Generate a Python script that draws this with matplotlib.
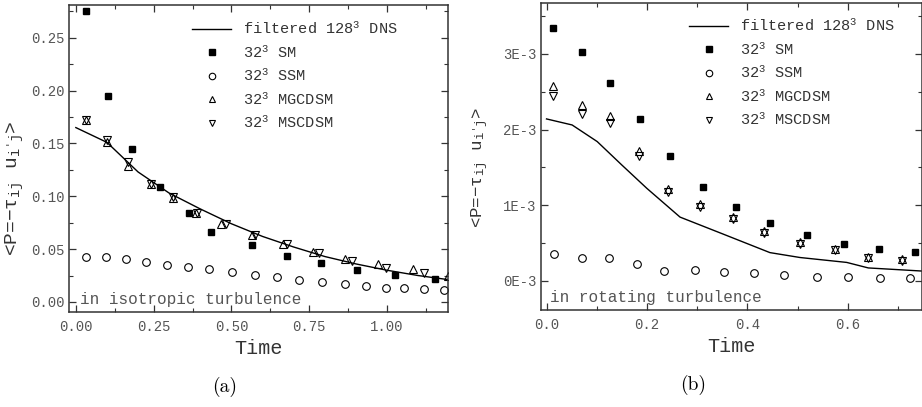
import matplotlib
matplotlib.use("Agg")
import matplotlib.pyplot as plt
from matplotlib.ticker import MultipleLocator, FuncFormatter

plt.rcParams['font.family'] = ['Liberation Mono', 'DejaVu Sans']
plt.rcParams['mathtext.fontset'] = 'custom'
plt.rcParams['mathtext.rm'] = 'Liberation Mono'
plt.rcParams['mathtext.it'] = 'Liberation Mono'

# ---- panel (a): isotropic turbulence ----
a_dns_t = [0.0, 0.1, 0.2, 0.3, 0.4, 0.5, 0.6, 0.7, 0.8, 0.9, 1.0, 1.1, 1.2]
a_dns_p = [0.165, 0.151, 0.123, 0.103, 0.088, 0.074, 0.062, 0.052, 0.043, 0.036, 0.030, 0.025, 0.021]

a_sm_t = [0.032, 0.104, 0.181, 0.269, 0.363, 0.433, 0.567, 0.677, 0.788, 0.904, 1.027, 1.154]
a_sm_p = [0.2756, 0.195, 0.145, 0.109, 0.0846, 0.0666, 0.0543, 0.0439, 0.0373, 0.0306, 0.0259, 0.0221]

a_ssm_t = [0.032, 0.098, 0.161, 0.227, 0.294, 0.360, 0.429, 0.502, 0.577, 0.647,
           0.718, 0.791, 0.865, 0.932, 0.996, 1.056, 1.119, 1.183]
a_ssm_p = [0.0429, 0.0429, 0.0404, 0.0376, 0.0353, 0.0331, 0.0309, 0.0287, 0.0259, 0.0234,
           0.0208, 0.0186, 0.0167, 0.0152, 0.0136, 0.0129, 0.0120, 0.0114]

a_mg_t = [0.032, 0.099, 0.169, 0.240, 0.313, 0.386, 0.468, 0.565, 0.667, 0.763, 0.864, 0.972, 1.085, 1.197]
a_mg_p = [0.172, 0.151, 0.129, 0.112, 0.098, 0.0846, 0.0735, 0.0638, 0.0549, 0.0477, 0.0410, 0.0357, 0.0309, 0.0246]

a_ms_t = [0.032, 0.099, 0.169, 0.240, 0.313, 0.390, 0.481, 0.576, 0.677, 0.781, 0.886, 0.997, 1.118]
a_ms_p = [0.172, 0.153, 0.132, 0.112, 0.099, 0.0846, 0.0735, 0.0638, 0.0549, 0.0461, 0.0388, 0.0325, 0.0275]

# ---- panel (b): rotating turbulence (values in units of 1E-3) ----
b_dns_t = [0.0, 0.051, 0.101, 0.15, 0.2, 0.266, 0.35, 0.445, 0.505, 0.598, 0.641, 0.75]
b_dns_p = [2.14, 2.06, 1.84, 1.53, 1.22, 0.84, 0.62, 0.37, 0.305, 0.24, 0.167, 0.125]

b_sm_t = [0.013, 0.071, 0.127, 0.187, 0.246, 0.312, 0.378, 0.446, 0.519, 0.592, 0.663, 0.734]
b_sm_p = [3.34, 3.03, 2.62, 2.14, 1.65, 1.245, 0.975, 0.768, 0.604, 0.49, 0.419, 0.375]

b_ssm_t = [0.014, 0.070, 0.124, 0.181, 0.235, 0.295, 0.354, 0.414, 0.473, 0.538, 0.601, 0.664, 0.725]
b_ssm_p = [0.348, 0.304, 0.304, 0.225, 0.128, 0.137, 0.119, 0.101, 0.079, 0.048, 0.048, 0.040, 0.040]

b_tri_t = [0.013, 0.071, 0.127, 0.185, 0.242, 0.305, 0.371, 0.434, 0.504, 0.574, 0.641, 0.708]
b_mg_p = [2.57, 2.33, 2.185, 1.717, 1.21, 1.01, 0.835, 0.655, 0.51, 0.42, 0.315, 0.28]
b_ms_p = [2.45, 2.21, 2.09, 1.65, 1.17, 0.98, 0.81, 0.63, 0.49, 0.40, 0.295, 0.26]

labels = ['filtered 128$^3$ DNS', '32$^3$ SM', '32$^3$ SSM', '32$^3$ MGCDSM', '32$^3$ MSCDSM']

W, H = 922, 407
fig = plt.figure(figsize=(W / 100, H / 100), dpi=100)
axa = fig.add_axes([69 / W, (H - 312) / H, 379 / W, 307 / H])
axb = fig.add_axes([541 / W, (H - 310) / H, 380.5 / W, 307 / H])

mk = dict(linestyle='none', color='black', markerfacecolor='none', markeredgewidth=0.8)


def draw(ax, dt, dp, st, sp, ct, cp, ut, up, vt, vp):
    ax.plot(dt, dp, color='black', lw=1.0, label=labels[0])
    ax.plot(st, sp, marker='s', linestyle='none', color='black', ms=5, label=labels[1])
    ax.plot(ct, cp, marker='o', ms=5.5, label=labels[2], **mk)
    ax.plot(ut, up, marker='^', ms=5.5, label=labels[3], **mk)
    ax.plot(vt, vp, marker='v', ms=5.5, label=labels[4], **mk)


def style(ax):
    for s in ax.spines.values():
        s.set_color('#333333')
        s.set_linewidth(1.1)
    ax.tick_params(which='both', direction='in', top=True, right=True,
                   colors='#333333', labelcolor='#555555', labelsize=10, pad=3)
    ax.tick_params(which='major', length=5, width=0.9)
    ax.tick_params(which='minor', length=3, width=0.8)
    ax.tick_params(axis='x', pad=6)
    ax.set_xlabel('Time', fontsize=14.5, color='#333333', labelpad=3)


draw(axa, a_dns_t, a_dns_p, a_sm_t, a_sm_p, a_ssm_t, a_ssm_p, a_mg_t, a_mg_p, a_ms_t, a_ms_p)
axa.set_xlim(-0.022, 1.196)
axa.set_ylim(-0.0095, 0.281)
axa.xaxis.set_major_locator(MultipleLocator(0.25))
axa.xaxis.set_minor_locator(MultipleLocator(0.125))
axa.yaxis.set_major_locator(MultipleLocator(0.05))
axa.yaxis.set_minor_locator(MultipleLocator(0.025))
axa.xaxis.set_major_formatter(FuncFormatter(lambda v, p: f'{v:.2f}'))
axa.yaxis.set_major_formatter(FuncFormatter(lambda v, p: f'{v:.2f}'))
style(axa)
axa.set_ylabel("<P=−τ$_{ij}$ u$_{i'j}$>", fontsize=14, color='#333333', va='center')
axa.yaxis.set_label_coords((15 - 69) / 379, (312 - 188) / 307)
axa.text(0.029, 0.041, 'in isotropic turbulence', transform=axa.transAxes,
         fontsize=11.5, color='#555555', va='center', ha='left')

draw(axb, b_dns_t, b_dns_p, b_sm_t, b_sm_p, b_ssm_t, b_ssm_p, b_tri_t, b_mg_p, b_tri_t, b_ms_p)
axb.set_xlim(-0.011, 0.747)
axb.set_ylim(-0.39, 3.675)
axb.xaxis.set_major_locator(MultipleLocator(0.2))
axb.xaxis.set_minor_locator(MultipleLocator(0.1))
axb.yaxis.set_major_locator(MultipleLocator(1))
axb.yaxis.set_minor_locator(MultipleLocator(0.5))
axb.xaxis.set_major_formatter(FuncFormatter(lambda v, p: f'{v:.1f}'))
axb.yaxis.set_major_formatter(FuncFormatter(lambda v, p: f'{v:.0f}E-3'))
style(axb)
axb.set_ylabel("<P=−τ$_{ij}$ u$_{i'j}$>", fontsize=12.5, color='#333333', va='center')
axb.yaxis.set_label_coords((480 - 541) / 380, (310 - 167) / 307)
axb.text(0.024, 0.041, 'in rotating turbulence', transform=axb.transAxes,
         fontsize=11.5, color='#555555', va='center', ha='left')

for ax, anchor in [(axa, (0.325, 0.949)), (axb, (0.39, 0.952))]:
    leg = ax.legend(loc='upper left', bbox_to_anchor=anchor, frameon=False, fontsize=11,
                    handlelength=2.55, handletextpad=0.75, labelspacing=0.45,
                    borderpad=0, borderaxespad=0, markerscale=0.85)
    for t in leg.get_texts():
        t.set_color('#333333')

fig.text(225 / W, 1 - 387 / H, '(a)', family='cmr10', fontsize=14, ha='center', va='center')
fig.text(693 / W, 1 - 385 / H, '(b)', family='cmr10', fontsize=14, ha='center', va='center')

fig.savefig('out.png', dpi=100)
